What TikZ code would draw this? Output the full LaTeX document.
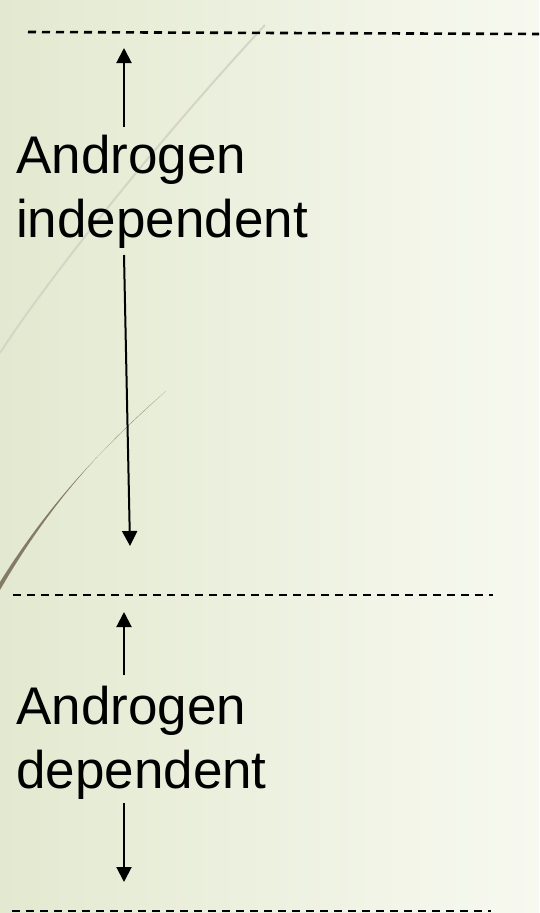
\documentclass[tikz,border=0pt]{standalone}
\usepackage{fontspec}
\setmainfont{Liberation Sans}
\usepackage{tikz}
\usetikzlibrary{arrows.meta}

\definecolor{paleleft}{HTML}{E3E9D0}
\definecolor{paleright}{HTML}{F7F9F0}
\definecolor{reed}{HTML}{857B65}
\definecolor{reedlight}{HTML}{D3D6C4}

\tikzset{
  cutline/.style={dash pattern=on 8pt off 6pt, line width=2.6pt},
  flow/.style={line width=2pt, -{Triangle[length=15pt,width=15pt]}},
  phase/.style={anchor=base west, align=left, inner sep=0pt,
    font=\fontsize{53}{64}\selectfont}
}

\begin{document}
\begin{tikzpicture}[x=1pt,y=-1pt]
%% background
\shade[left color=paleleft, right color=paleright] (0,0) rectangle (539,913);
\useasboundingbox (0,0) rectangle (539,913);
%% decorative strokes
\draw[reedlight, line width=2pt] (0,353) .. controls (35,298) and (140,160) .. (265,25);
\fill[reed] (0,590) .. controls (55,495) and (110,440) .. (166,391)
  .. controls (107,444) and (50,500) .. (-5,590) -- cycle;
%% phase boundaries
\draw[cutline] (28,32) -- (539,34);
\draw[cutline] (13,595) -- (493,595);
\draw[cutline] (12,911) -- (491,911);
%% labels (base anchor sits on the last line)
\node[phase] (indep) at (16,237) {Androgen\\independent};
\node[phase] (dep) at (16,788) {Androgen\\dependent};
%% arrow ends
\coordinate (indepup) at (124,127);
\coordinate (indeptop) at (124,48);
\coordinate (indepdown) at (124,255);
\coordinate (indepbot) at (130,546);
\coordinate (depup) at (124,675);
\coordinate (deptop) at (124,612);
\coordinate (depdown) at (124,803);
\coordinate (depbot) at (124,882);
%% arrows
\draw[flow] (indepup) -- (indeptop);
\draw[flow] (indepdown) -- (indepbot);
\draw[flow] (depup) -- (deptop);
\draw[flow] (depdown) -- (depbot);
\end{tikzpicture}
\end{document}
